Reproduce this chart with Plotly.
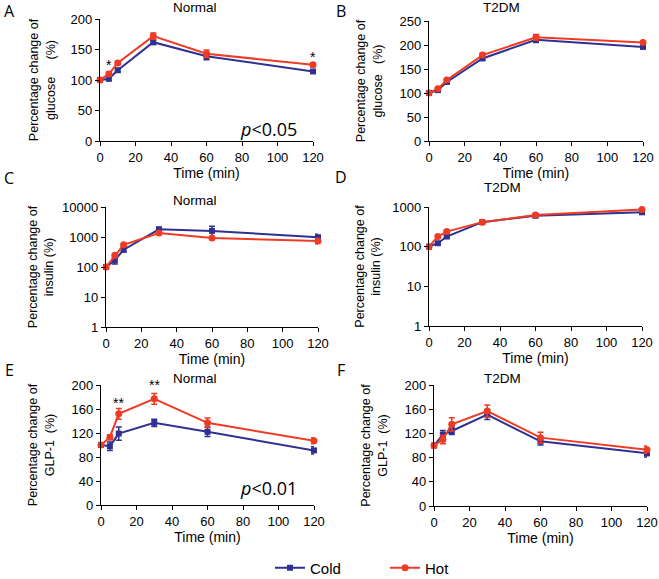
import plotly.graph_objects as go

W, H = 659, 579

time_min = [0, 5, 10, 30, 60, 120]

# Panel A: Normal glucose
glu_norm_cold = [100, 102, 116, 162, 139, 114]
glu_norm_cold_err = [2, 3, 3, 4, 6, 3]
glu_norm_hot = [100, 110, 128, 172, 143, 125]
glu_norm_hot_err = [2, 3, 3, 5, 6, 3]

# Panel B: T2DM glucose
glu_t2_cold = [100, 106, 123, 172, 211, 196]
glu_t2_cold_err = [2, 2, 3, 4, 6, 3]
glu_t2_hot = [100, 109, 127, 179, 216, 205]
glu_t2_hot_err = [2, 2, 3, 4, 6, 3]

# Panel C: Normal insulin
ins_norm_cold = [100, 167, 378, 1800, 1600, 980]
ins_norm_cold_err = [5, 40, 60, 300, 700, 250]
ins_norm_hot = [100, 245, 550, 1350, 925, 740]
ins_norm_hot_err = [5, 30, 60, 150, 100, 150]

# Panel D: T2DM insulin
ins_t2_cold = [100, 122, 180, 415, 600, 735]
ins_t2_cold_err = [3, 8, 15, 30, 40, 50]
ins_t2_hot = [100, 180, 240, 415, 625, 870]
ins_t2_hot_err = [3, 10, 15, 30, 40, 50]

# Panel E: Normal GLP-1
glp_norm_cold = [100, 98, 119, 137, 122, 91]
glp_norm_cold_err = [3, 7, 11, 6, 8, 6]
glp_norm_hot = [100, 113, 152, 177, 137, 107]
glp_norm_hot_err = [3, 4, 9, 9, 8, 5]

# Panel F: T2DM GLP-1
glp_t2_cold = [100, 118, 124, 151, 107, 87]
glp_t2_cold_err = [3, 7, 6, 8, 6, 6]
glp_t2_hot = [100, 110, 135, 157, 113, 93]
glp_t2_hot_err = [3, 7, 11, 10, 9, 6]

x_ticks = [0, 20, 40, 60, 80, 100, 120]

COLD = "#2E3192"
HOT = "#EE3B24"
FONT = "Arial"

fig = go.Figure()

def px_x(a, b):
    return [a / W, b / W]

def px_y(top, bottom):
    return [1 - bottom / H, 1 - top / H]

panels = [
    (glu_norm_cold, glu_norm_cold_err, glu_norm_hot, glu_norm_hot_err,
     px_x(100, 313), px_y(19, 141), "Percentage change of<br>glucose\u00a0\u00a0\u00a0\u00a0\u00a0(%)", 12,
     dict(range=[0, 200], dtick=50)),
    (glu_t2_cold, glu_t2_cold_err, glu_t2_hot, glu_t2_hot_err,
     px_x(429, 643), px_y(21, 141), "Percentage change of<br>glucose\u00a0\u00a0\u00a0(%)", 14,
     dict(range=[0, 250], dtick=50)),
    (ins_norm_cold, ins_norm_cold_err, ins_norm_hot, ins_norm_hot_err,
     px_x(106, 318), px_y(207, 327), "Percentage change of<br>insulin (%)", 5,
     dict(type="log", range=[0, 4], tickvals=[1, 10, 100, 1000, 10000],
          ticktext=["1", "10", "100", "1000", "10000"])),
    (ins_t2_cold, ins_t2_cold_err, ins_t2_hot, ins_t2_hot_err,
     px_x(429, 642), px_y(207, 326), "Percentage change of<br>insulin (%)", 8,
     dict(type="log", range=[0, 3], tickvals=[1, 10, 100, 1000],
          ticktext=["1", "10", "100", "1000"])),
    (glp_norm_cold, glp_norm_cold_err, glp_norm_hot, glp_norm_hot_err,
     px_x(101, 314), px_y(385, 505), "Percentage change of<br>GLP-1\u00a0\u00a0(%)", 14,
     dict(range=[0, 200], dtick=40)),
    (glp_t2_cold, glp_t2_cold_err, glp_t2_hot, glp_t2_hot_err,
     px_x(434, 647), px_y(385, 506), "Percentage change of<br>GLP-1\u00a0\u00a0(%)", 14,
     dict(range=[0, 200], dtick=40)),
]

layout_axes = {}
for i, (c, ce, h, he, xd, yd, yt, so, ycfg) in enumerate(panels):
    n = i + 1
    xa = "x" if n == 1 else f"x{n}"
    ya = "y" if n == 1 else f"y{n}"
    fig.add_trace(go.Scatter(
        x=time_min, y=c, xaxis=xa, yaxis=ya, name="Cold",
        mode="lines+markers", cliponaxis=False, showlegend=(n == 1),
        line=dict(color=COLD, width=2),
        marker=dict(symbol="square", size=6, color=COLD),
        error_y=dict(type="data", array=ce, color=COLD, thickness=1.5, width=3),
    ))
    fig.add_trace(go.Scatter(
        x=time_min, y=h, xaxis=xa, yaxis=ya, name="Hot",
        mode="lines+markers", cliponaxis=False, showlegend=(n == 1),
        line=dict(color=HOT, width=2),
        marker=dict(symbol="circle", size=7, color=HOT),
        error_y=dict(type="data", array=he, color=HOT, thickness=1.5, width=3),
    ))
    xkey = "xaxis" if n == 1 else f"xaxis{n}"
    ykey = "yaxis" if n == 1 else f"yaxis{n}"
    layout_axes[xkey] = dict(
        domain=xd, anchor=ya, range=[0, 120], tickvals=x_ticks, automargin=False,
        showgrid=False, zeroline=False, showline=True, linecolor="black",
        linewidth=1.3, ticks="outside", ticklen=4, tickcolor="black",
        tickfont=dict(size=13, color="black"),
        title=dict(text="Time (min)", font=dict(size=14, color="black"), standoff=1),
    )
    ydict = dict(
        domain=yd, anchor=xa, showgrid=False, zeroline=False, showline=True,
        automargin=False,
        linecolor="black", linewidth=1.3, ticks="outside", ticklen=4,
        tickcolor="black", tickfont=dict(size=13, color="black"),
        title=dict(text=yt, font=dict(size=12.5, color="black"), standoff=so),
    )
    ydict.update(ycfg)
    layout_axes[ykey] = ydict

fig.update_layout(**layout_axes)

annotations = []
for lab, x, y in [("A", 9, 11), ("B", 341, 11), ("C", 9, 178), ("D", 341, 177),
                  ("E", 9, 370), ("F", 341, 370)]:
    annotations.append(dict(text=lab, x=x / W, y=1 - y / H, xref="paper", yref="paper",
                            showarrow=False, xanchor="center", yanchor="middle",
                            font=dict(size=16, family="Open Sans, sans-serif", color="black")))
for lab, x, y in [("Normal", 195, 8), ("T2DM", 501, 8), ("Normal", 195, 200),
                  ("T2DM", 502, 187), ("Normal", 195, 378), ("T2DM", 502, 378)]:
    annotations.append(dict(text=lab, x=x / W, y=1 - y / H, xref="paper", yref="paper",
                            showarrow=False, xanchor="center", yanchor="middle",
                            font=dict(size=13.5, family=FONT, color="black")))
annotations += [
    dict(text="*", x=5, y=124, xref="x", yref="y", showarrow=False,
         font=dict(size=14, color="black"), yanchor="middle"),
    dict(text="*", x=120, y=138, xref="x", yref="y", showarrow=False,
         font=dict(size=14, color="black"), yanchor="middle"),
    dict(text="**", x=10, y=170, xref="x5", yref="y5", showarrow=False,
         font=dict(size=14, color="black"), yanchor="middle"),
    dict(text="**", x=30, y=200, xref="x5", yref="y5", showarrow=False,
         font=dict(size=14, color="black"), yanchor="middle"),
    dict(text="<i>p</i><0.05", x=268 / W, y=1 - 129 / H, xref="paper", yref="paper",
         showarrow=False, xanchor="center", yanchor="middle",
         font=dict(size=18, family="Open Sans, sans-serif", color="black")),
    dict(text="<i>p</i><0.01", x=268 / W, y=1 - 488 / H, xref="paper", yref="paper",
         showarrow=False, xanchor="center", yanchor="middle",
         font=dict(size=18, family="Open Sans, sans-serif", color="black")),
]

fig.update_layout(
    width=W, height=H,
    margin=dict(l=0, r=0, t=0, b=0, autoexpand=False),
    paper_bgcolor="white", plot_bgcolor="white",
    font=dict(family=FONT, color="black"),
    annotations=annotations,
    showlegend=True,
    legend=dict(orientation="h", x=270 / W, xanchor="left", y=1 - 568 / H,
                yanchor="middle", font=dict(size=15, color="black"),
                itemwidth=30, entrywidth=70, bgcolor="rgba(0,0,0,0)"),
)

fig.write_html(
    "out.html",
    config={"displayModeBar": False},
    post_script="document.body.style.margin='0';document.body.style.overflow='hidden';",
)
